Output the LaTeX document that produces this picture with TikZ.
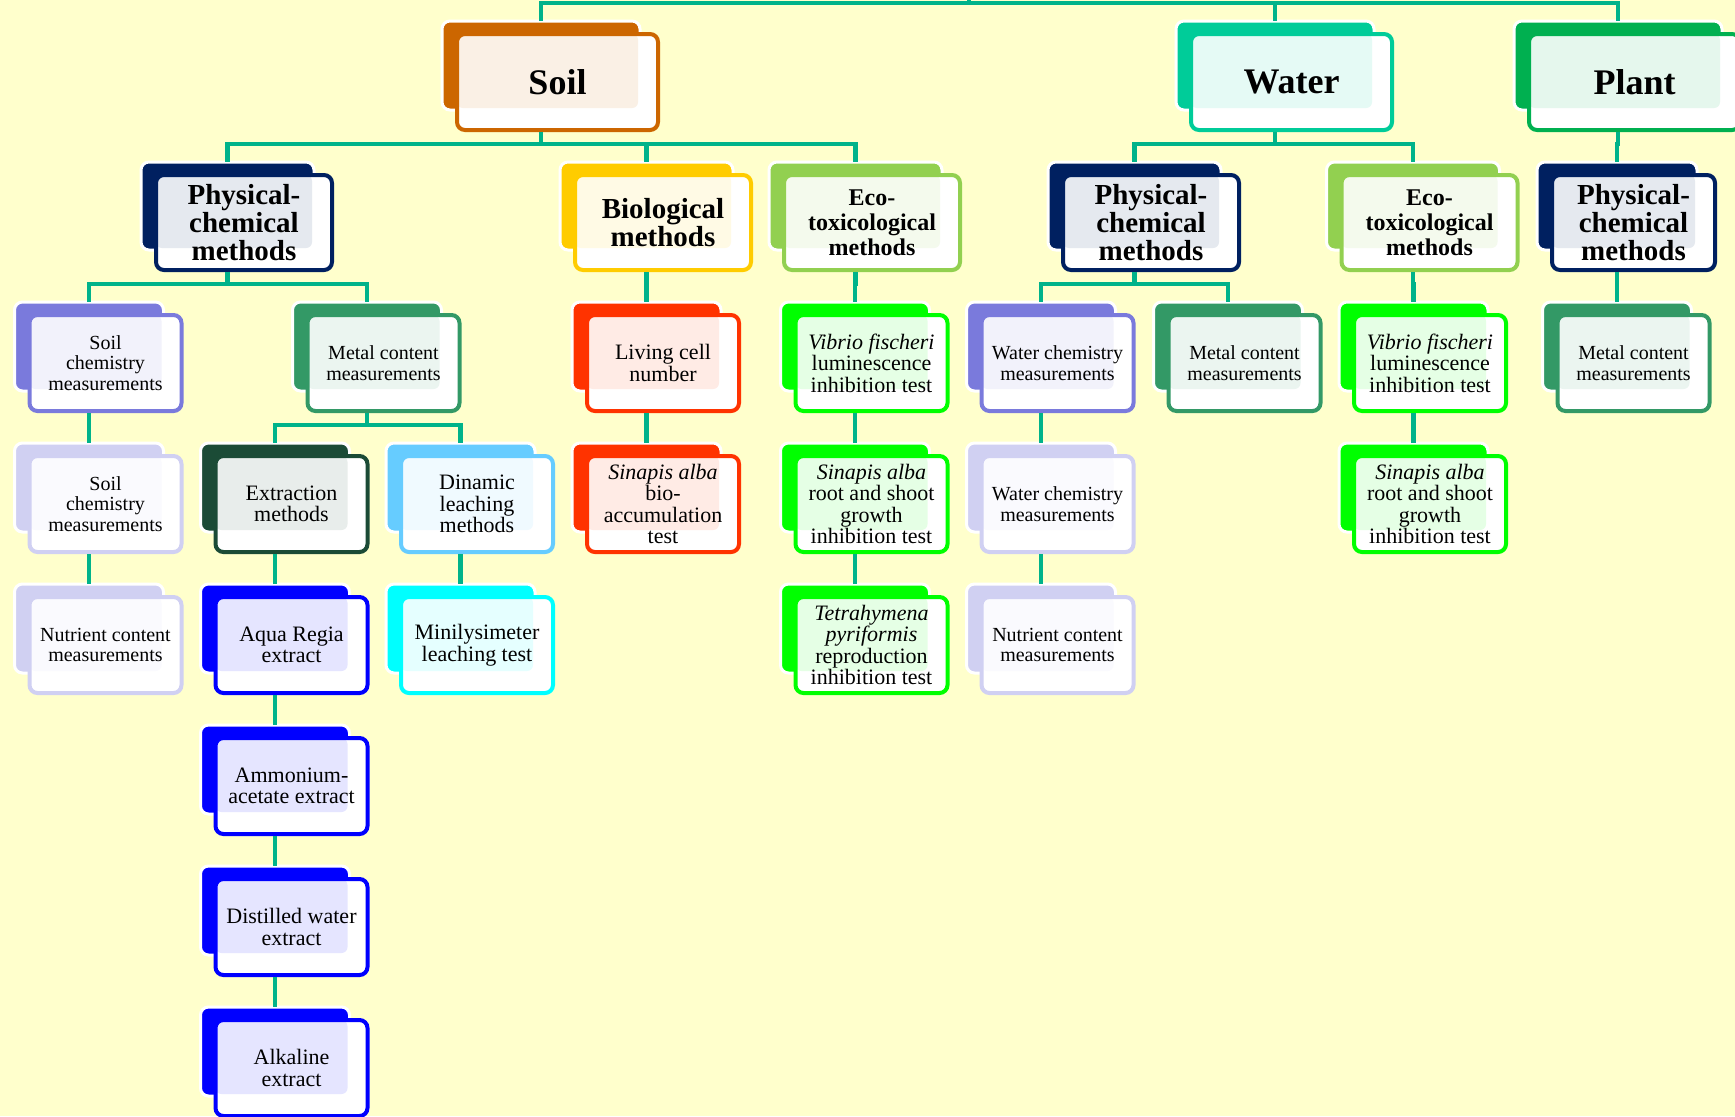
\documentclass[tikz,border=0pt]{standalone}
\usepackage{fontspec}
\setmainfont{Liberation Serif}
\usetikzlibrary{calc}

\definecolor{bgc}{HTML}{FFFFCC}
\definecolor{linkc}{HTML}{00B38A}
\definecolor{soilc}{HTML}{CC6600}
\definecolor{waterc}{HTML}{00CC99}
\definecolor{plantc}{HTML}{00B050}
\definecolor{navyc}{HTML}{002060}
\definecolor{bioc}{HTML}{FFCC00}
\definecolor{ecoc}{HTML}{92D050}
\definecolor{lavc}{HTML}{7A7ADC}
\definecolor{palec}{HTML}{D0D0F2}
\definecolor{metalc}{HTML}{339966}
\definecolor{extrc}{HTML}{1B4B36}
\definecolor{dinc}{HTML}{66CCFF}
\definecolor{bluec}{HTML}{0000FF}
\definecolor{cyanc}{HTML}{00FFFF}
\definecolor{redc}{HTML}{FF3300}
\definecolor{greenc}{HTML}{00FF00}

\pgfdeclarelayer{back}
\pgfsetlayers{back,main}

\tikzset{
  card/.style={draw=#1, fill=white, line width=2pt, rounded corners=4pt,
    inner sep=0pt, align=center,
    path picture={\fill[#1!10, rounded corners=3pt] (path picture bounding box.north west)
      rectangle ($(path picture bounding box.south east)+(-20,-22)$);}},
  backcard/.style={draw=white, line width=1.5pt, rounded corners=4pt},
  lvone/.style={font=\fontsize{18}{20}\selectfont\bfseries, minimum width=100.5pt, minimum height=48pt},
  lvtwo/.style={font=\fontsize{14.5}{14}\selectfont\bfseries, minimum width=88pt, minimum height=47.5pt},
  lveco/.style={lvtwo, font=\fontsize{12}{12.5}\selectfont\bfseries},
  lvthree/.style={font=\fontsize{11}{10.8}\selectfont, minimum width=76pt, minimum height=48pt},
  lvmeas/.style={lvthree, font=\fontsize{10}{10.2}\selectfont},
  link/.style={draw=linkc, line width=2.4pt}
}

\begin{document}
\begin{tikzpicture}[x=0.5pt, y=-0.5pt]
\useasboundingbox (0,0) rectangle (1735,1116);

% media
\node[card=soilc, lvone] (soil) at (557.5,82) {Soil};
\node[card=waterc, lvone] (water) at (1291.5,82) {Water};
\node[card=plantc, lvone, minimum width=105.5pt] (plant) at (1634.5,82) {Plant};
\coordinate (root) at (969,-10);

% methods
\node[card=navyc, lvtwo] (pcs) at (244,222.5) {Physical-\\chemical\\methods};
\node[card=bioc, lvtwo] (bio) at (663,222.5) {Biological\\methods};
\node[card=ecoc, lveco] (ecos) at (872,222.5) {Eco-\\toxicological\\methods};
\node[card=navyc, lvtwo] (pcw) at (1151,222.5) {Physical-\\chemical\\methods};
\node[card=ecoc, lveco] (ecow) at (1429.5,222.5) {Eco-\\toxicological\\methods};
\node[card=navyc, lvtwo, minimum width=81.5pt] (pcp) at (1633.5,222.5) {Physical-\\chemical\\methods};

% third row
\node[card=lavc, lvmeas] (schem) at (105.5,363) {Soil\\chemistry\\measurements};
\node[card=metalc, lvmeas] (metals) at (383.5,363) {Metal content\\measurements};
\node[card=redc, lvthree] (living) at (663,363) {Living cell\\number};
\node[card=greenc, lvthree] (vib1) at (871.5,363) {\textit{Vibrio fischeri}\\luminescence\\inhibition test};
\node[card=lavc, lvmeas] (wchem) at (1057.5,363) {Water chemistry\\measurements};
\node[card=metalc, lvmeas] (metalw) at (1244.5,363) {Metal content\\measurements};
\node[card=greenc, lvthree] (vib2) at (1430,363) {\textit{Vibrio fischeri}\\luminescence\\inhibition test};
\node[card=metalc, lvmeas] (metalp) at (1633.5,363) {Metal content\\measurements};

% fourth row
\node[card=palec, lvmeas] (schemb) at (105.5,504) {Soil\\chemistry\\measurements};
\node[card=extrc, lvthree] (extr) at (291.5,504) {Extraction\\methods};
\node[card=dinc, lvthree] (dinam) at (477,504) {Dinamic\\leaching\\methods};
\node[card=redc, lvthree] (sinbio) at (663,504) {\textit{Sinapis alba}\\bio-\\accumulation\\test};
\node[card=greenc, lvthree] (sin1) at (871.5,504) {\textit{Sinapis alba}\\root and shoot\\growth\\inhibition test};
\node[card=palec, lvmeas] (wchemb) at (1057.5,504) {Water chemistry\\measurements};
\node[card=greenc, lvthree] (sin2) at (1430,504) {\textit{Sinapis alba}\\root and shoot\\growth\\inhibition test};

% fifth row
\node[card=palec, lvmeas] (nutr1) at (105.5,645) {Nutrient content\\measurements};
\node[card=bluec, lvthree] (aqua) at (291.5,645) {Aqua Regia\\extract};
\node[card=cyanc, lvthree] (mini) at (477,645) {Minilysimeter\\leaching test};
\node[card=greenc, lvthree] (tetra) at (871.5,645) {\textit{Tetrahymena}\\\textit{pyriformis}\\reproduction\\inhibition test};
\node[card=palec, lvmeas] (nutr2) at (1057.5,645) {Nutrient content\\measurements};

% extracts
\node[card=bluec, lvthree] (ammon) at (291.5,786) {Ammonium-\\acetate extract};
\node[card=bluec, lvthree] (dist) at (291.5,927) {Distilled water\\extract};
\node[card=bluec, lvthree] (alk) at (291.5,1068) {Alkaline\\extract};

\begin{pgfonlayer}{back}
  \fill[bgc] (0,0) rectangle (1735,1116);
  \foreach \nd/\col in {soil/soilc, water/waterc, plant/plantc, pcs/navyc, bio/bioc,
      ecos/ecoc, pcw/navyc, ecow/ecoc, pcp/navyc, schem/lavc, metals/metalc, living/redc,
      vib1/greenc, wchem/lavc, metalw/metalc, vib2/greenc, metalp/metalc, schemb/palec,
      extr/extrc, dinam/dinc, sinbio/redc, sin1/greenc, wchemb/palec, sin2/greenc,
      nutr1/palec, aqua/bluec, mini/cyanc, tetra/greenc, nutr2/palec, ammon/bluec,
      dist/bluec, alk/bluec}
    \draw[backcard, fill=\col] ($(\nd.north west)+(-13,-11)$) rectangle ($(\nd.south east)+(-20,-22)$);
\end{pgfonlayer}

% connectors
\foreach \ch in {soil, water, plant}
  \draw[link] (root) -- ++(0,13) -| ($(\ch.north)+(-16.5,-11)$);
\foreach \pa/\ch in {soil/pcs, soil/bio, soil/ecos, water/pcw, water/ecow, plant/pcp,
    pcs/schem, pcs/metals, bio/living, ecos/vib1, pcw/wchem, pcw/metalw, ecow/vib2,
    pcp/metalp, schem/schemb, metals/extr, metals/dinam, living/sinbio, vib1/sin1,
    wchem/wchemb, vib2/sin2, schemb/nutr1, extr/aqua, dinam/mini, sin1/tetra,
    wchemb/nutr2, aqua/ammon, ammon/dist, dist/alk}
  \draw[link] ($(\pa.south)+(-16.5,0)$) -- ++(0,12) -| ($(\ch.north)+(-16.5,-11)$);
\end{tikzpicture}
\end{document}
